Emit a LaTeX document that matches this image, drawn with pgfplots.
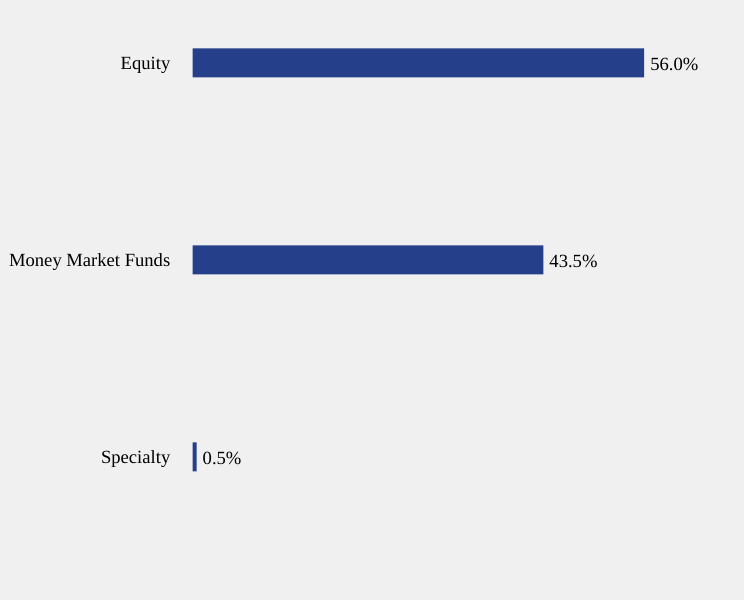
\documentclass[border=0pt]{standalone}
\usepackage{fontspec}
\setmainfont{Liberation Serif}
\usepackage{pgfplots}
\pgfplotsset{compat=1.18}
\definecolor{bgc}{HTML}{F0F0F0}
\definecolor{barc}{HTML}{253F8A}

\begin{document}
\begin{tikzpicture}[x=1pt,y=1pt]
  \fill[bgc] (0,0) rectangle (744,600);
  \begin{axis}[
      at={(192.5pt,0pt)}, anchor=south west,
      scale only axis,
      width=483pt, height=600pt,
      xmin=0, xmax=59.9,
      ymin=-0.7259, ymax=2.3198,
      xbar, bar width=29pt,
      axis line style={draw=none},
      major tick length=0pt,
      xtick=\empty,
      ytick={0,1,2},
      yticklabels={Specialty, Money Market Funds, Equity},
      yticklabel style={font=\fontsize{18.6}{22}\selectfont, inner sep=0pt, xshift=-22pt, yshift=-2.5pt},
      /pgf/number format/assume math mode=true,
      nodes near coords={\pgfmathprintnumber[fixed,fixed zerofill,precision=1]{\pgfplotspointmeta}\%},
      nodes near coords style={font=\fontsize{18.6}{22}\selectfont, anchor=west, inner sep=0pt, xshift=6pt, yshift=-1pt},
      clip=false,
    ]
    \addplot[fill=barc, draw=none] coordinates {(0.5,0) (43.5,1) (56.0,2)};
  \end{axis}
\end{tikzpicture}
\end{document}
